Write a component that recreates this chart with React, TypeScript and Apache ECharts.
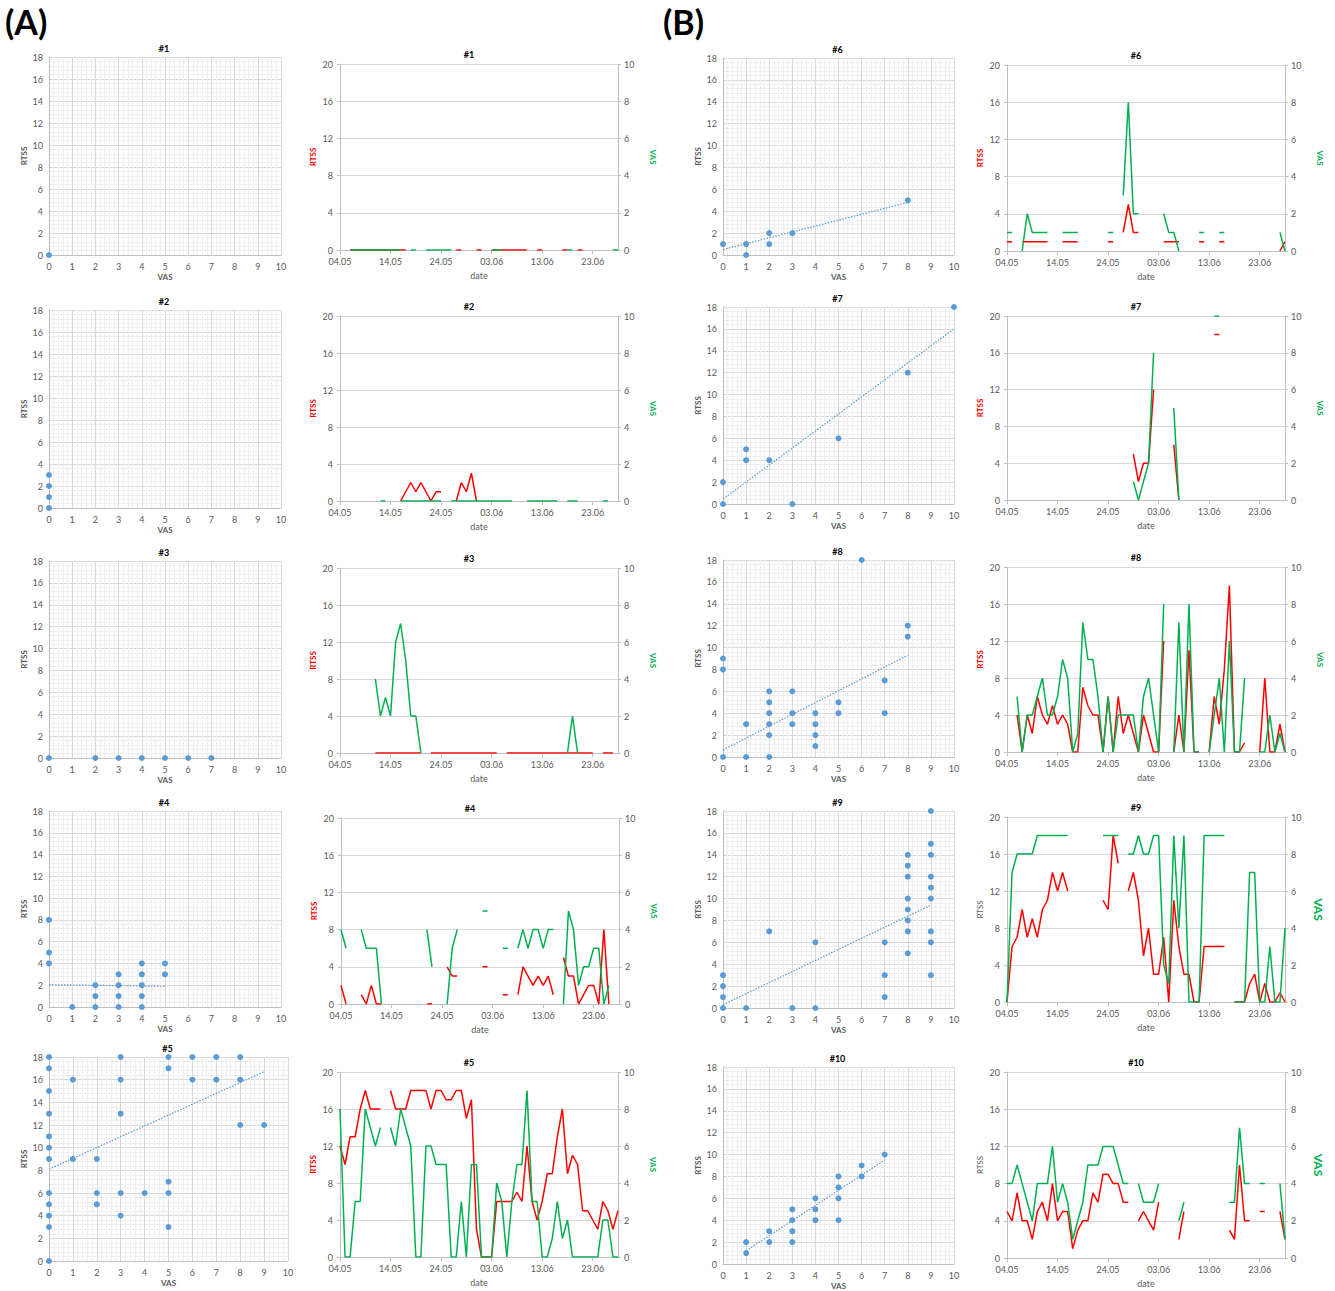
import React, { useEffect, useRef } from 'react';
import * as echarts from 'echarts';

// ---------- DATA ----------
const panelTitles = ['#1', '#2', '#3', '#4', '#5', '#6', '#7', '#8', '#9', '#10'];
const dateTickLabels = ['04.05', '14.05', '24.05', '03.06', '13.06', '23.06'];
const DAY_COUNT = 56; // 04.05 .. 28.06

// scatter points [VAS, RTSS]
const sc1 = [[0, 0]];
const sc2 = [[0, 0], [0, 1], [0, 2], [0, 3]];
const sc3 = [[0, 0], [2, 0], [3, 0], [4, 0], [5, 0], [6, 0], [7, 0]];
const sc4 = [[0, 8], [0, 5], [0, 4], [1, 0], [2, 2], [2, 1], [2, 0], [3, 3], [3, 2], [3, 1], [3, 0], [4, 4], [4, 3], [4, 2], [4, 1], [4, 0], [5, 4], [5, 3]];
const sc5 = [[0, 18], [0, 17], [0, 15], [0, 13], [0, 11], [0, 10], [0, 9], [0, 6], [0, 5], [0, 4], [0, 3], [0, 0], [1, 16], [1, 9], [2, 9], [2, 6], [2, 5], [3, 18], [3, 16], [3, 13], [3, 6], [3, 4], [4, 6], [5, 18], [5, 17], [5, 7], [5, 6], [5, 3], [6, 18], [6, 16], [7, 18], [7, 16], [8, 18], [8, 16], [8, 12], [9, 12]];
const sc6 = [[0, 1], [1, 1], [1, 0], [2, 2], [2, 1], [3, 2], [8, 5]];
const sc7 = [[0, 2], [0, 0], [1, 5], [1, 4], [2, 4], [3, 0], [5, 6], [8, 12], [10, 18]];
const sc8 = [[0, 9], [0, 8], [0, 0], [1, 3], [1, 0], [2, 6], [2, 5], [2, 4], [2, 3], [2, 2], [2, 0], [3, 6], [3, 4], [3, 3], [4, 4], [4, 3], [4, 2], [4, 1], [5, 5], [5, 4], [6, 18], [7, 7], [7, 4], [8, 12], [8, 11]];
const sc9 = [[0, 3], [0, 2], [0, 1], [0, 0], [1, 0], [2, 7], [3, 0], [4, 6], [4, 0], [7, 6], [7, 3], [7, 1], [8, 14], [8, 13], [8, 12], [8, 10], [8, 9], [8, 8], [8, 7], [8, 5], [9, 18], [9, 15], [9, 14], [9, 12], [9, 11], [9, 10], [9, 7], [9, 6], [9, 3]];
const sc10 = [[1, 2], [1, 1], [2, 3], [2, 2], [3, 5], [3, 4], [3, 3], [3, 2], [4, 6], [4, 5], [4, 4], [5, 8], [5, 7], [5, 6], [5, 4], [6, 9], [6, 8], [7, 10]];

// linear trend lines [[x0, y0], [x1, y1]] (null = none)
const tr4 = [[0, 2.05], [5, 1.9]];
const tr5 = [[0, 8.1], [9, 16.7]];
const tr6 = [[0, 0.5], [8, 4.8]];
const tr7 = [[0, 0.45], [10, 16.0]];
const tr8 = [[0, 0.65], [8, 9.3]];
const tr9 = [[0, 0.3], [9, 9.4]];
const tr10 = [[1, 1.2], [7, 9.5]];

// daily series as segments: [start day index, values...]
type Seg = [number, number[]];
const rtss1: Seg[] = [[2, [0, 0, 0, 0, 0, 0, 0, 0, 0, 0, 0, 0]], [23, [0, 0]], [27, [0, 0]], [30, [0, 0, 0, 0, 0, 0, 0, 0]], [39, [0, 0]], [44, [0, 0]], [47, [0, 0]]];
const vas1: Seg[] = [[2, [0, 0, 0, 0, 0, 0, 0, 0, 0, 0, 0]], [14, [0, 0]], [17, [0, 0, 0, 0, 0, 0]], [30, [0, 0, 0]], [45, [0, 0]], [54, [0, 0]]];

const rtss2: Seg[] = [[12, [0, 1, 2, 1, 2, 1, 0, 1, 1]], [23, [0, 2, 1, 3, 0]]];
const vas2: Seg[] = [[8, [0, 0]], [12, [0, 0, 0, 0, 0, 0, 0, 0, 0]], [22, [0, 0, 0, 0, 0, 0, 0, 0, 0, 0, 0, 0, 0]], [37, [0, 0, 0, 0, 0, 0, 0]], [45, [0, 0, 0]], [52, [0, 0]]];

const rtss3: Seg[] = [[7, [0, 0, 0, 0, 0, 0, 0, 0, 0, 0]], [18, [0, 0, 0, 0, 0, 0, 0, 0, 0, 0, 0, 0, 0, 0]], [33, [0, 0, 0, 0, 0, 0, 0, 0, 0, 0, 0, 0, 0, 0, 0, 0, 0, 0]], [52, [0, 0, 0]]];
const vas3: Seg[] = [[7, [4, 2, 3, 2, 6, 7, 5, 2, 2, 0]], [45, [0, 2, 0]]];

const rtss4: Seg[] = [[0, [2, 0]], [4, [1, 0, 2, 0, 0]], [17, [0, 0]], [21, [4, 3, 3]], [28, [4, 4]], [32, [1, 1]], [35, [1, 4, 3, 2, 3, 2, 3, 1]], [44, [5, 3, 3, 0, 1, 2, 2, 0, 8, 0]]];
const vas4: Seg[] = [[0, [4, 3]], [4, [4, 3, 3, 3, 0]], [17, [4, 2]], [21, [0, 3, 4]], [28, [5, 5]], [32, [3, 3]], [35, [3, 4, 3, 4, 4, 3, 4, 4]], [44, [0, 5, 4, 1, 2, 2, 3, 3, 0, 1]]];

const rtss5: Seg[] = [[0, [12, 10, 13, 13, 16, 18, 16, 16, 16]], [10, [18, 16, 16, 16, 18, 18, 18, 18, 16, 18, 18, 17, 17, 18, 18, 15, 17, 3, 0, 0, 0, 6, 6, 6, 6, 7, 6, 12, 6, 4, 6, 9, 9, 13, 16, 9, 11, 10, 5, 5, 4, 3, 6, 5, 3, 5]]];
const vas5: Seg[] = [[0, [8, 0, 0, 3, 3, 8, 7, 6, 7]], [10, [7, 6, 8, 7, 6, 0, 0, 6, 6, 5, 5, 5, 0, 0, 3, 0, 5, 5, 0, 0, 0, 4, 3, 0, 3, 5, 5, 9, 3, 3, 0, 0, 1, 3, 1, 2, 0, 0, 0, 0, 0, 0, 2, 2, 0, 0]]];

const rtss6: Seg[] = [[0, [1, 1]], [3, [1, 1, 1, 1, 1, 1]], [11, [1, 1, 1, 1]], [20, [1, 1]], [23, [2, 5, 2, 2]], [31, [1, 1, 1, 1]], [38, [1, 1]], [42, [1, 1]], [54, [0, 1]]];
const vas6: Seg[] = [[0, [1, 1]], [3, [0, 2, 1, 1, 1, 1]], [11, [1, 1, 1, 1]], [20, [1, 1]], [23, [3, 8, 2, 2]], [31, [2, 1, 1, 0]], [38, [1, 1]], [42, [1, 1]], [54, [1, 0]]];

const rtss7: Seg[] = [[25, [5, 2, 4, 4, 12]], [33, [6, 0]], [41, [18, 18]]];
const vas7: Seg[] = [[25, [1, 0, 1, 2, 8]], [33, [5, 0]], [41, [10, 10]]];

const rtss8: Seg[] = [[2, [4, 0, 4, 2, 6, 4, 3, 5, 3, 4, 3, 0, 0, 7, 5, 4, 4, 0, 6, 0, 6, 2, 4, 2, 0, 4, 2, 0, 0, 12]], [33, [0, 4, 0, 11, 0, 0]], [40, [0, 6, 3, 9, 18, 0, 0, 1]], [50, [0, 8, 0, 0, 3, 0]]];
const vas8: Seg[] = [[2, [3, 0, 2, 2, 3, 4, 2, 2, 3, 5, 4, 0, 1, 7, 5, 5, 3, 0, 3, 0, 2, 2, 2, 2, 0, 3, 4, 2, 0, 8]], [33, [0, 7, 0, 8, 0, 0]], [40, [0, 2, 4, 0, 6, 0, 0, 4]], [50, [0, 0, 2, 0, 1, 0]]];

const rtss9: Seg[] = [[0, [0, 6, 7, 10, 7, 9, 7, 10, 11, 14, 12, 14, 12]], [19, [11, 10, 18, 15]], [24, [12, 14, 11, 5, 8, 3, 3, 7, 0, 11, 6, 3, 3, 0, 0, 6, 6, 6, 6, 6]], [45, [0, 0, 0, 2, 3, 0, 2, 0, 0, 1, 0]]];
const vas9: Seg[] = [[0, [0, 7, 8, 8, 8, 8, 9, 9, 9, 9, 9, 9, 9]], [19, [9, 9, 9, 9]], [24, [8, 8, 9, 8, 8, 9, 9, 2, 1, 9, 4, 9, 0, 0, 0, 9, 9, 9, 9, 9]], [45, [0, 0, 0, 7, 7, 0, 0, 3, 0, 0, 4]]];

const rtss10: Seg[] = [[0, [5, 4, 7, 4, 4, 2, 5, 6, 4, 8, 4, 5, 5, 1, 3, 4, 4, 7, 6, 9, 9, 8, 8, 6, 6]], [26, [4, 5, 4, 3, 6]], [34, [2, 5]], [44, [3, 2, 10, 4, 4]], [50, [5, 5]], [54, [5, 2]]];
const vas10: Seg[] = [[0, [4, 4, 5, 4, 3, 2, 4, 4, 4, 6, 3, 4, 3, 1, 2, 3, 5, 5, 5, 6, 6, 6, 5, 4, 4]], [26, [4, 3, 3, 3, 4]], [34, [2, 3]], [44, [3, 3, 7, 4, 4]], [50, [4, 4]], [54, [4, 1]]];

const scatterData = [sc1, sc2, sc3, sc4, sc5, sc6, sc7, sc8, sc9, sc10];
const trendData = [null, null, null, tr4, tr5, tr6, tr7, tr8, tr9, tr10];
const rtssData = [rtss1, rtss2, rtss3, rtss4, rtss5, rtss6, rtss7, rtss8, rtss9, rtss10];
const vasData = [vas1, vas2, vas3, vas4, vas5, vas6, vas7, vas8, vas9, vas10];

// ---------- LAYOUT ----------
const scatterRects = [
  [49, 57, 232, 198], [49, 310, 232, 198], [49, 561, 232, 197], [49, 811, 232, 196], [49, 1057, 239, 204],
  [723, 58, 231, 197], [723, 307, 231, 197], [723, 560, 231, 197], [723, 811, 231, 197], [723, 1067, 231, 197],
];
const timeRects = [
  [340, 64, 278, 186], [340, 316, 278, 185], [340, 568, 278, 185], [341, 818, 278, 186], [340, 1072, 278, 185],
  [1007, 65, 278, 186], [1007, 316, 278, 184], [1007, 567, 278, 185], [1007, 817, 278, 185], [1007, 1072, 278, 186],
];

const FONT = 'Lato, "Open Sans", sans-serif';
const GREY = '#595959';
const RED = '#FF0000';
const GREEN = '#00B050';
const BLUE = '#5B9BD5';

function expand(segs: Seg[]) {
  const arr: (number | null)[] = [];
  for (let i = 0; i < DAY_COUNT; i++) arr.push(null);
  segs.forEach(([s, vals]) => vals.forEach((v, k) => { arr[s + k] = v; }));
  return arr;
}

function dateCategories() {
  const out: string[] = [];
  for (let i = 0; i < DAY_COUNT; i++) {
    const d = new Date(2020, 4, 4 + i);
    const dd = String(d.getDate()).padStart(2, '0');
    const mm = String(d.getMonth() + 1).padStart(2, '0');
    out.push(dd + '.' + mm);
  }
  return out;
}

function buildOption() {
  const cats = dateCategories();
  const grid: any[] = [];
  const xAxis: any[] = [];
  const yAxis: any[] = [];
  const series: any[] = [];
  const graphic: any[] = [];

  const label = { fontSize: 9, color: GREY, fontFamily: FONT };

  // scatter panels
  scatterRects.forEach((r, i) => {
    grid.push({ left: r[0], top: r[1], width: r[2], height: r[3] });
    xAxis.push({
      type: 'value', gridIndex: i, min: 0, max: 10, interval: 1,
      axisLine: { show: true, lineStyle: { color: '#bfbfbf' } },
      axisTick: { show: false },
      axisLabel: { ...label, margin: 7 },
      splitLine: { show: true, lineStyle: { color: '#d9d9d9', width: 1 } },
      minorTick: { show: false, splitNumber: 5 },
      minorSplitLine: { show: true, lineStyle: { color: '#efefef', width: 1 } },
      name: 'VAS', nameLocation: 'middle', nameGap: 18,
      nameTextStyle: { fontSize: 8, fontWeight: 'bold', color: GREY, fontFamily: FONT },
    });
    yAxis.push({
      type: 'value', gridIndex: i, min: 0, max: 18, interval: 2,
      axisLine: { show: true, lineStyle: { color: '#bfbfbf' } },
      axisTick: { show: false },
      axisLabel: { ...label, margin: 6 },
      splitLine: { show: true, lineStyle: { color: '#d9d9d9', width: 1 } },
      minorTick: { show: false, splitNumber: 5 },
      minorSplitLine: { show: true, lineStyle: { color: '#efefef', width: 1 } },
      name: 'RTSS', nameLocation: 'middle', nameGap: 21,
      nameTextStyle: { fontSize: 8, fontWeight: 'bold', color: GREY, fontFamily: FONT },
    });
    graphic.push({
      type: 'text', x: r[0] + r[2] / 2 - 1, y: r[1] - 9,
      style: { text: panelTitles[i], fill: '#000', font: 'bold 9px ' + FONT, textAlign: 'center', textVerticalAlign: 'middle', verticalAlign: 'middle' },
    });
  });

  // time panels
  timeRects.forEach((r, i) => {
    const gi = 10 + i;
    grid.push({ left: r[0], top: r[1], width: r[2], height: r[3] });
    xAxis.push({
      type: 'category', gridIndex: gi, data: cats, boundaryGap: false,
      axisLine: { show: true, lineStyle: { color: '#bfbfbf' } },
      axisTick: { show: true, interval: 9, length: 4, lineStyle: { color: '#bfbfbf' } },
      axisLabel: {
        ...label, interval: 9, margin: 7,
        formatter: (v: string, idx: number) => dateTickLabels[Math.round(idx / 10)] ?? v,
      },
      splitLine: { show: false },
      name: 'date', nameLocation: 'middle', nameGap: 21,
      nameTextStyle: { fontSize: 9, color: GREY, fontFamily: FONT },
    });
    const special = i >= 8;
    yAxis.push({
      type: 'value', gridIndex: gi, min: 0, max: 20, interval: 4, position: 'left',
      axisLine: { show: true, lineStyle: { color: '#bfbfbf' } },
      axisTick: { show: true, length: 3, lineStyle: { color: '#bfbfbf' } },
      axisLabel: { ...label, margin: 7 },
      splitLine: { show: true, lineStyle: { color: '#d9d9d9', width: 1 } },
      name: 'RTSS', nameLocation: 'middle', nameGap: 23,
      nameTextStyle: special
        ? { fontSize: 8, color: GREY, fontFamily: FONT }
        : { fontSize: 8, fontWeight: 'bold', color: RED, fontFamily: FONT },
    });
    graphic.push({
      type: 'text', x: r[0] + r[2] / 2 - 10, y: r[1] - 10,
      style: { text: panelTitles[i], fill: '#000', font: 'bold 9px ' + FONT, textAlign: 'center', textVerticalAlign: 'middle', verticalAlign: 'middle' },
    });
  });
  timeRects.forEach((r, i) => {
    const gi = 10 + i;
    const special = i >= 8;
    yAxis.push({
      type: 'value', gridIndex: gi, min: 0, max: 10, interval: 2, position: 'right',
      axisLine: { show: true, lineStyle: { color: '#bfbfbf' } },
      axisTick: { show: true, length: 3, lineStyle: { color: '#bfbfbf' } },
      axisLabel: { ...label, margin: 6 },
      splitLine: { show: false },
      name: 'VAS', nameLocation: 'middle', nameGap: special ? 27 : 31, nameRotate: -90,
      nameTextStyle: special
        ? { fontSize: 12, fontWeight: 'bold', color: GREEN, fontFamily: FONT }
        : { fontSize: 8, fontWeight: 'bold', color: GREEN, fontFamily: FONT },
    });
  });

  // series
  scatterData.forEach((pts, i) => {
    const tr = trendData[i];
    if (tr) {
      series.push({
        type: 'line', xAxisIndex: i, yAxisIndex: i, data: tr, symbol: 'none', silent: true,
        lineStyle: { color: BLUE, width: 1.2, type: [1.5, 1.5] }, z: 2,
      });
    }
    series.push({
      type: 'scatter', xAxisIndex: i, yAxisIndex: i, data: pts, symbol: 'circle', symbolSize: 6,
      itemStyle: { color: BLUE, opacity: 1 }, z: 3,
    });
  });
  rtssData.forEach((segs, i) => {
    series.push({
      type: 'line', xAxisIndex: 10 + i, yAxisIndex: 10 + i, data: expand(segs), symbol: 'none',
      connectNulls: false, lineStyle: { color: RED, width: 1.5 }, z: 2,
    });
    series.push({
      type: 'line', xAxisIndex: 10 + i, yAxisIndex: 20 + i, data: expand(vasData[i]), symbol: 'none',
      connectNulls: false, lineStyle: { color: GREEN, width: 1.5 }, z: 3,
    });
  });

  graphic.push({ type: 'text', x: 5, y: 4, style: { text: '(A)', fill: '#000', font: 'bold 34px ' + FONT } });
  graphic.push({ type: 'text', x: 663, y: 4, style: { text: '(B)', fill: '#000', font: 'bold 34px ' + FONT } });

  return { animation: false, backgroundColor: '#fff', grid, xAxis, yAxis, series, graphic };
}

export default function App() {
  const ref = useRef<HTMLDivElement>(null);
  useEffect(() => {
    if (!ref.current) return;
    const chart = echarts.init(ref.current, undefined, { renderer: 'svg' });
    chart.setOption(buildOption() as any);
    return () => chart.dispose();
  }, []);
  return <div ref={ref} style={{ position: 'absolute', left: 0, top: 0, width: 1335, height: 1291, background: '#fff' }} />;
}
